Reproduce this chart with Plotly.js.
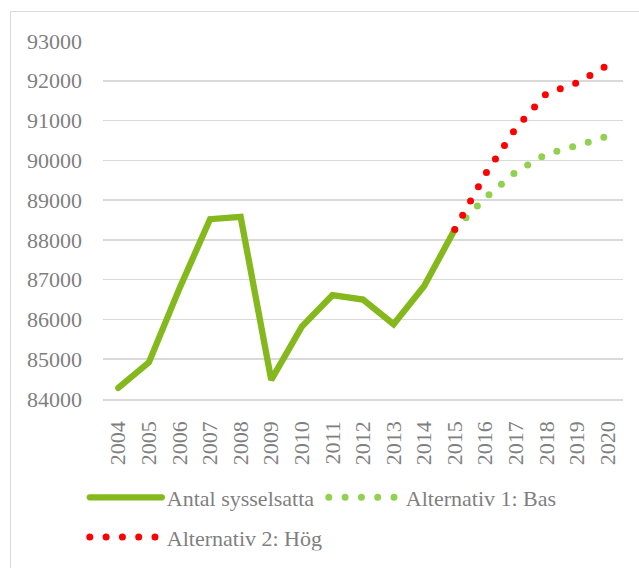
<!DOCTYPE html>
<html>
<head>
<meta charset="utf-8">
<script src="https://cdn.plot.ly/plotly-3.0.1.min.js"></script>
<style>
  html, body { margin: 0; padding: 0; background: #fff; }
  #wrap { position: relative; width: 639px; height: 568px; overflow: hidden; }
  #chart { width: 639px; height: 568px; }
  #frame { position: absolute; left: 10px; top: 11px; width: 640px; height: 570px;
           border-left: 1px solid #d9d9d9; border-top: 1px solid #d9d9d9; pointer-events: none; }
</style>
</head>
<body>
<div id="wrap">
  <div id="chart"></div>
  <div id="frame"></div>
</div>
<script>
// Data
const years = ['2004','2005','2006','2007','2008','2009','2010','2011','2012','2013','2014','2015','2016','2017','2018','2019','2020'];
const histYears = years.slice(0, 12);
const antalSysselsatta = [84280, 84920, 86780, 88520, 88580, 84480, 85820, 86610, 86500, 85880, 86840, 88260];
const prognosYears = ['2015','2016','2017','2018','2019','2020'];
const alt1Bas = [88260, 89060, 89710, 90160, 90370, 90610];
const alt2Hog = [88260, 89650, 90810, 91680, 91950, 92390];
const yTicks = [84000, 85000, 86000, 87000, 88000, 89000, 90000, 91000, 92000, 93000];

const FONT = '"Liberation Serif", "Times New Roman", serif';
const TXT = '#7f7f7f';

const traces = [
  { x: histYears, y: antalSysselsatta, name: 'Antal sysselsatta', type: 'scatter', mode: 'lines',
    line: { color: '#84b81c', width: 6.3 } },
  { x: prognosYears, y: alt1Bas, name: 'Alternativ 1: Bas', type: 'scatter', mode: 'lines',
    line: { color: '#92d050', width: 7, dash: '0px,16.3px' } },
  { x: prognosYears, y: alt2Hog, name: 'Alternativ 2: Hög', type: 'scatter', mode: 'lines',
    line: { color: '#ff0000', width: 7, dash: '0px,16.3px' } }
];

const layout = {
  width: 639, height: 568,
  margin: { l: 103, r: 16, t: 41, b: 169, autoexpand: false },
  paper_bgcolor: '#ffffff', plot_bgcolor: '#ffffff',
  font: { family: FONT, color: TXT, size: 22 },
  showlegend: true,
  xaxis: {
    type: 'category', categoryorder: 'array', categoryarray: years,
    range: [-0.5, years.length - 0.5],
    tickangle: -90, tickfont: { family: FONT, size: 22, color: TXT },
    showgrid: false, showline: true, linecolor: '#d9d9d9', linewidth: 1.5,
    ticks: '', ticklabelstandoff: 12, zeroline: false, fixedrange: true, automargin: false
  },
  yaxis: {
    range: [84000, 93000], tickvals: yTicks, tickformat: 'd',
    tickfont: { family: FONT, size: 22, color: TXT },
    showgrid: true, gridcolor: '#d9d9d9', gridwidth: 1.5,
    showline: false, zeroline: false, ticks: '', ticklabelstandoff: 20, fixedrange: true, automargin: false
  },
  legend: {
    orientation: 'h', x: -0.035, xanchor: 'left', y: -0.2166, yanchor: 'top',
    font: { family: FONT, size: 22, color: TXT },
    entrywidth: 152, entrywidthmode: 'pixels', itemwidth: 72,
    bgcolor: 'rgba(0,0,0,0)', tracegroupgap: 0
  }
};

Plotly.newPlot('chart', traces, layout, { staticPlot: true, displayModeBar: false }).then(function (gd) {
  // round caps so the dotted series show round dots like the original
  gd.querySelectorAll('.scatterlayer .trace path.js-line').forEach(function (p) {
    p.style.strokeLinecap = 'round';
  });
  gd.querySelectorAll('.legend .traces path.js-line').forEach(function (p) {
    p.style.strokeLinecap = 'round';
  });
  // open up the gap between the two legend rows like the original
  const items = gd.querySelectorAll('.legend .traces');
  if (items.length === 3) {
    const t = items[2].getAttribute('transform') || '';
    const m = t.match(/translate\(\s*([-\d.]+)[ ,]+([-\d.]+)\s*\)/);
    if (m) items[2].setAttribute('transform', 'translate(' + m[1] + ',' + (parseFloat(m[2]) + 8) + ')');
  }
});
</script>
</body>
</html>
